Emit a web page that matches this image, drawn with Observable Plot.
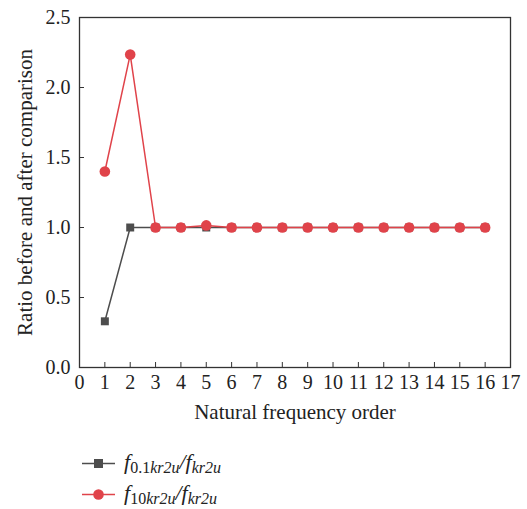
<!DOCTYPE html>
<html><head><meta charset="utf-8">
<script src="https://cdn.jsdelivr.net/npm/d3@7"></script>
<script src="https://cdn.jsdelivr.net/npm/@observablehq/plot@0.6"></script>
<style>
body{margin:0;background:#fff;font-family:"Liberation Serif",serif;}
#legend{position:relative;margin-top:0px;height:77px;}
.item{position:absolute;left:82px;display:flex;align-items:center;font-size:22px;font-style:italic;color:#222;line-height:1;}
.item svg{margin-right:8px;}
sub{font-size:16px;vertical-align:-4px;line-height:1;}
.up{font-style:normal;}
</style></head>
<body>
<div id="chart"></div>
<div id="legend"></div>
<script>
const orders = [1,2,3,4,5,6,7,8,9,10,11,12,13,14,15,16];
const lowRatio = [0.33,1,1,1,1,1,1,1,1,1,1,1,1,1,1,1];
const highRatio = [1.40,2.235,1,1,1.015,1,1,1,1,1,1,1,1,1,1,1];
const xTicks = [0,1,2,3,4,5,6,7,8,9,10,11,12,13,14,15,16,17];
const yTicks = [0,0.5,1,1.5,2,2.5];

const low = orders.map((o,i)=>({x:o,y:lowRatio[i]}));
const high = orders.map((o,i)=>({x:o,y:highRatio[i]}));
const gray = "#4d4d4d", red = "#e0434a";

const chart = Plot.plot({
  width:527, height:432,
  marginLeft:79, marginRight:17, marginTop:17, marginBottom:65,
  style:{fontFamily:"Liberation Serif, serif", fontSize:"20px", color:"#222", overflow:"visible"},
  x:{domain:[0,17], ticks:xTicks, label:null},
  y:{domain:[0,2.5], ticks:yTicks, label:null},
  marks:[
    Plot.frame({stroke:"#333", strokeWidth:1.3}),
    Plot.axisX({ticks:xTicks, tickSize:-5, tickPadding:12, tickFormat:d=>String(d), label:null, stroke:"#333", fontSize:20}),
    Plot.axisY({ticks:yTicks, tickSize:-5, tickPadding:14, tickFormat:d3.format(".1f"), label:null, stroke:"#333", fontSize:20}),
    Plot.text(["Natural frequency order"], {frameAnchor:"bottom", lineAnchor:"middle", dy:45, fontSize:21, fill:"#222"}),
    Plot.text(["Ratio before and after comparison"], {frameAnchor:"left", textAnchor:"middle", lineAnchor:"middle", dx:-54, rotate:-90, fontSize:21, fill:"#222"}),
    Plot.line(low, {x:"x", y:"y", stroke:gray, strokeWidth:1.5}),
    Plot.dot(low, {x:"x", y:"y", symbol:"square", r:4.5, fill:gray}),
    Plot.line(high, {x:"x", y:"y", stroke:red, strokeWidth:1.5}),
    Plot.dot(high, {x:"x", y:"y", symbol:"circle", r:5.3, fill:red})
  ]
});
document.getElementById("chart").append(chart);

const items = [
  {color:gray, sym:"square", html:'f<sub><span class="up">0.1</span>kr2u</sub>/f<sub>kr2u</sub>', top:31},
  {color:red, sym:"circle", html:'f<sub><span class="up">10</span>kr2u</sub>/f<sub>kr2u</sub>', top:62}
];
const leg = document.getElementById("legend");
for (const it of items) {
  const d = document.createElement("div");
  d.className="item"; d.style.top=(it.top-12.5)+"px";
  const mk = it.sym==="square"
    ? `<rect x="12" y="8" width="9" height="9" fill="${it.color}"/>`
    : `<circle cx="16.5" cy="12.5" r="5.3" fill="${it.color}"/>`;
  d.innerHTML = `<svg width="34" height="25"><line x1="0" x2="33" y1="12.5" y2="12.5" stroke="${it.color}" stroke-width="1.5"/>${mk}</svg><span>${it.html}</span>`;
  leg.append(d);
}
</script>
</body></html>
